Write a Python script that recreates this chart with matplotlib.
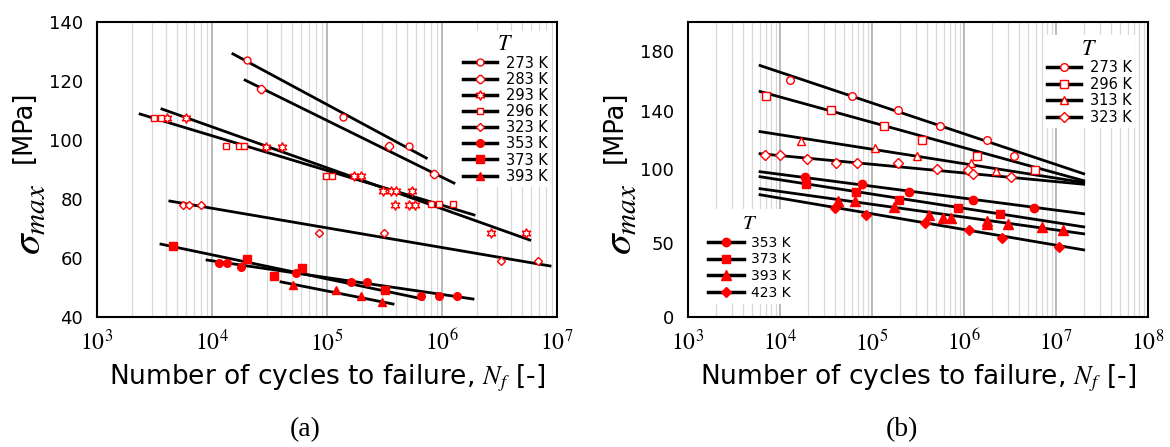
import numpy as np
import matplotlib
matplotlib.use('Agg')
import matplotlib.pyplot as plt
from matplotlib.lines import Line2D
from matplotlib.ticker import LogLocator, NullFormatter

plt.rcParams['font.family'] = 'DejaVu Sans'
plt.rcParams['mathtext.fontset'] = 'stix'

# ---------------- datos (a) ----------------
temps_a = ['273 K', '283 K', '293 K', '296 K', '323 K', '353 K', '373 K', '393 K']
N_a = [
    [2.0e4, 1.38e5, 5.2e5],
    [2.67e4, 3.46e5, 8.5e5],
    [4.07e3, 5.94e3, 2.95e4, 4.06e4, 1.72e5, 1.98e5, 3.07e5, 3.6e5, 3.98e5,
     5.48e5, 3.9e5, 5.16e5, 5.8e5, 2.67e6, 5.37e6],
    [3.13e3, 3.6e3, 1.32e4, 1.72e4, 1.9e4, 9.8e4, 1.1e5, 8.0e5, 9.4e5, 1.25e6],
    [5.6e3, 6.3e3, 8.0e3, 8.5e4, 3.13e5, 3.26e6, 6.84e6],
    [1.15e4, 1.35e4, 1.79e4, 5.37e4, 1.62e5, 2.23e5, 6.57e5, 9.4e5, 1.35e6],
    [4.58e3, 2.0e4, 3.46e4, 6.07e4, 3.19e5],
    [5.06e4, 1.2e5, 1.98e5, 3.0e5],
]
S_a = [
    [127.1, 107.8, 98.0],
    [117.3, 98.0, 88.5],
    [107.5, 107.5, 97.6, 97.6, 87.8, 87.8, 82.7, 82.7, 82.7, 82.7, 78.0, 78.0,
     78.0, 68.5, 68.5],
    [107.5, 107.5, 98.0, 98.0, 98.0, 87.8, 87.8, 78.3, 78.3, 78.3],
    [78.0, 78.0, 78.0, 68.5, 68.5, 59.0, 59.0],
    [58.3, 58.3, 57.0, 54.9, 51.9, 51.9, 47.1, 47.1, 47.1],
    [64.1, 59.7, 53.9, 56.6, 49.2],
    [50.8, 49.2, 47.1, 45.1],
]
# rectas de ajuste (extremos)
fitN_a = [(1.52e4, 7.3e5), (1.94e4, 1.27e6), (3.67e3, 5.8e6), (2.37e3, 1.9e6),
          (4.3e3, 8.7e6), (9.06e3, 1.86e6), (3.6e3, 6.84e5), (3.98e4, 3.75e5)]
fitS_a = [(129.2, 93.9), (120.3, 85.4), (110.5, 66.1), (108.8, 74.6),
          (79.3, 57.3), (59.3, 46.1), (64.7, 46.1), (51.9, 44.4)]

# ---------------- datos (b) ----------------
temps_b = ['273 K', '296 K', '313 K', '323 K', '353 K', '373 K', '393 K', '423 K']
N_b = [
    [1.28e4, 6.07e4, 1.92e5, 5.48e5, 1.78e6, 3.49e6],
    [7.05e3, 3.58e4, 1.35e5, 3.49e5, 1.38e6, 5.9e6],
    [1.69e4, 1.08e5, 3.08e5, 1.19e6, 2.23e6],
    [6.87e3, 1.0e4, 1.96e4, 4.06e4, 6.87e4, 1.92e5, 5.09e5, 1.1e6, 1.25e6, 3.24e6],
    [1.87e4, 7.78e4, 2.52e5, 1.25e6, 5.77e6],
    [1.92e4, 6.7e4, 1.96e5, 8.6e5, 2.46e6],
    [4.27e4, 6.53e4, 1.73e5, 4.17e5, 5.9e5, 7.2e5, 1.78e6, 1.78e6, 3.0e6,
     7.05e6, 1.19e7],
    [3.96e4, 8.6e4, 3.77e5, 1.13e6, 2.59e6, 1.08e7],
]
S_b = [
    [161.0, 150.1, 140.6, 129.8, 120.2, 109.4],
    [150.1, 140.6, 129.8, 120.2, 109.4, 99.9],
    [119.6, 114.8, 109.4, 104.6, 99.2],
    [110.1, 110.1, 107.3, 104.6, 104.6, 104.6, 100.5, 99.9, 97.2, 95.1],
    [95.1, 90.4, 84.9, 79.5, 74.0],
    [90.4, 84.9, 79.5, 74.0, 70.0],
    [78.8, 78.8, 74.7, 69.3, 67.3, 67.3, 65.2, 63.2, 63.2, 61.1, 59.1],
    [74.0, 69.3, 63.9, 59.1, 53.7, 47.6],
]
fitN_b = [(6.07e3, 2.0e7)] * 8
fitS_b = [(170.5, 97.1), (152.9, 92.4), (125.7, 91.2), (110.7, 90.0),
          (98.5, 70.0), (95.1, 61.1), (87.0, 56.4), (82.9, 45.5)]

xticks_a = [1e3, 1e4, 1e5, 1e6, 1e7]
yticks_a = [40, 60, 80, 100, 120, 140]
xticks_b = [1e3, 1e4, 1e5, 1e6, 1e7, 1e8]
yticks_b = [0, 50, 100, 140, 180]

# estilos de marcador
mk_a = ['o', '8', (6, 1, 0), 's', 'D', 'o', 's', '^']
fill_a = [False, False, False, False, False, True, True, True]
ms_a = [5, 5.5, 7, 5, 4.5, 5.5, 5.5, 6]
mk_b = ['o', 's', '^', 'D', 'o', 's', '^', 'D']
fill_b = [False, False, False, False, True, True, True, True]
ms_b = [5.5, 6, 6, 5, 6, 6, 6.5, 5]

W, H = 1170, 447
fig = plt.figure(figsize=(W / 100, H / 100), dpi=100)
ax1 = fig.add_axes([97 / W, 1 - 317 / H, 460 / W, 295 / H])
ax2 = fig.add_axes([688 / W, 1 - 317 / H, 460 / W, 295 / H])


def estilo(ax, xt, yt, xlim, ylim):
    ax.set_xscale('log')
    ax.set_xlim(*xlim)
    ax.set_ylim(*ylim)
    ax.set_xticks(xt)
    ax.set_xticklabels([r'$10^{%d}$' % int(round(np.log10(v))) for v in xt])
    ax.xaxis.set_minor_locator(LogLocator(base=10, subs=np.arange(2, 10), numticks=30))
    ax.xaxis.set_minor_formatter(NullFormatter())
    ax.set_yticks(yt)
    ax.tick_params(axis='both', which='both', length=0)
    ax.tick_params(axis='x', labelsize=17, pad=9)
    ax.tick_params(axis='y', labelsize=13, pad=10)
    ax.grid(which='minor', axis='x', color='#d9d9d9', lw=0.9)
    ax.grid(which='major', axis='x', color='#a6a6a6', lw=1.1)
    ax.set_axisbelow(True)
    for s in ax.spines.values():
        s.set_linewidth(1.5)
    ax.set_xlabel(r'Number of cycles to failure, $N_f$ [-]', fontsize=19, labelpad=5)


def dibujar(ax, Ns, Ss, fN, fS, mk, fill, ms):
    for i in range(len(Ns)):
        ax.plot(fN[i], fS[i], color='k', lw=2, zorder=2)
        ax.plot(Ns[i], Ss[i], ls='none', marker=mk[i], ms=ms[i],
                mfc='red' if fill[i] else 'white', mec='red', mew=1.0, zorder=3)


def handles(labels, mk, fill, ms, idx):
    return [Line2D([], [], color='k', lw=2.5, marker=mk[i], ms=ms[i],
                   mfc='red' if fill[i] else 'white', mec='red', mew=1.0,
                   label=labels[i]) for i in idx]


estilo(ax1, xticks_a, yticks_a, (1e3, 1e7), (40, 140))
dibujar(ax1, N_a, S_a, fitN_a, fitS_a, mk_a, fill_a, ms_a)
ax1.legend(handles=handles(temps_a, mk_a, fill_a, ms_a, range(8)),
           loc='upper right', bbox_to_anchor=(1.0, 0.99), title='$T$',
           title_fontsize=16, fontsize=10.5, frameon=True, framealpha=1,
           edgecolor='none', fancybox=False, handlelength=2.3,
           labelspacing=0.08, handletextpad=0.6, borderpad=0.25,
           borderaxespad=0.4)

estilo(ax2, xticks_b, yticks_b, (1e3, 1e8), (0, 200))
dibujar(ax2, N_b, S_b, fitN_b, fitS_b, mk_b, fill_b, ms_b)
leg1 = ax2.legend(handles=handles(temps_b, mk_b, fill_b, ms_b, range(4)),
                  loc='upper right', bbox_to_anchor=(0.985, 0.975), title='$T$',
                  title_fontsize=16, fontsize=10.5, frameon=True, framealpha=1,
                  edgecolor='none', fancybox=False, handlelength=2.3,
                  labelspacing=0.1, handletextpad=0.6, borderpad=0.25,
                  borderaxespad=0.4)
ax2.add_artist(leg1)
ax2.legend(handles=handles(temps_b, mk_b, fill_b, ms_b, range(4, 8)),
           loc='lower left', bbox_to_anchor=(0.02, 0.02), title='$T$',
           title_fontsize=15, fontsize=10, frameon=True, framealpha=1,
           edgecolor='none', fancybox=False, handlelength=2.6,
           labelspacing=0.2, handletextpad=0.5, borderpad=0.3)

# etiquetas del eje y: sigma_max grande + [MPa]
for x0 in (0, 591):
    fig.text((x0 + 23.5) / W, 1 - 126.5 / H, '[MPa]', rotation=90,
             ha='center', va='center', fontsize=18.5)
    fig.text((x0 + 28) / W, 1 - 219 / H, r'$\sigma_{max}$', rotation=90,
             ha='center', va='center', fontsize=30)

fig.text(305 / W, 1 - 430 / H, '(a)', ha='center', va='center',
         family='Liberation Serif', fontsize=20)
fig.text(902 / W, 1 - 430 / H, '(b)', ha='center', va='center',
         family='Liberation Serif', fontsize=20)

fig.savefig('out.png', dpi=100)
